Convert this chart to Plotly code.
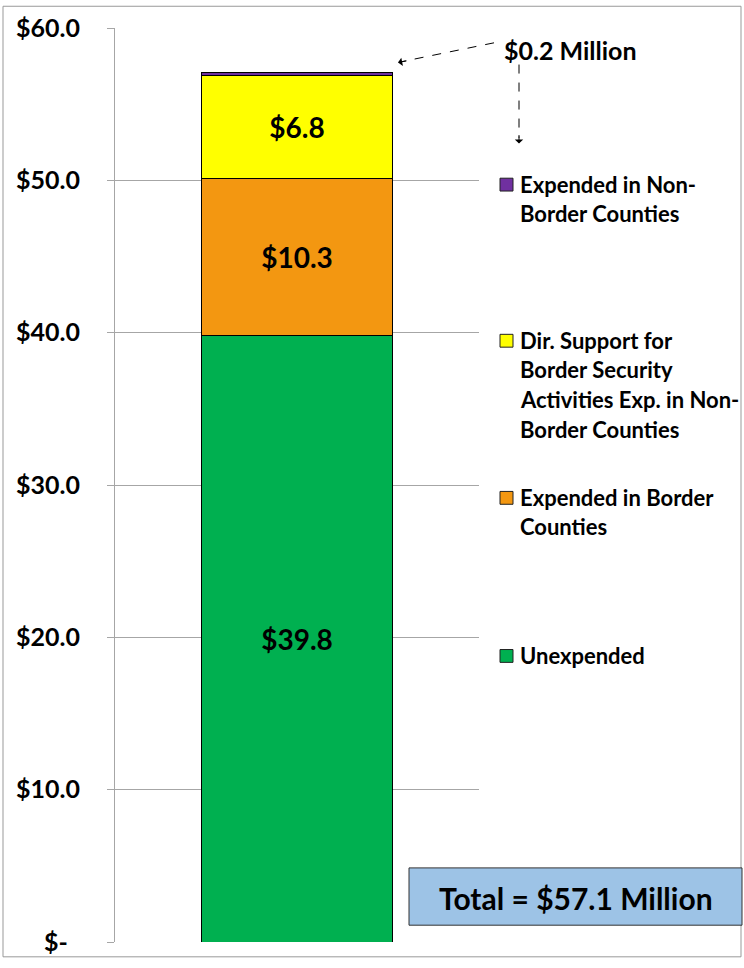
import plotly.graph_objects as go

W, H = 744, 968
ML, MR, MT, MB = 115, 265, 25, 18

categories = ["Total"]
series_names = [
    "Unexpended",
    "Expended in Border Counties",
    "Dir. Support for Border Security Activities Exp. in Non-Border Counties",
    "Expended in Non-Border Counties",
]
series_values = [[39.8], [10.3], [6.8], [0.2]]
series_colors = ["#00B050", "#F39711", "#FFFF00", "#7030A0"]
show_label = [True, True, True, False]

tick_vals = [0, 10, 20, 30, 40, 50, 60]
tick_text = ["$-\u00a0\u00a0", "$10.0", "$20.0", "$30.0", "$40.0", "$50.0", "$60.0"]

legend_lines = [
    ["Expended in Non-", "Border Counties"],
    ["Dir. Support for", "Border Security", "Activities Exp. in Non-", "Border Counties"],
    ["Expended in Border", "Counties"],
    ["Unexpended"],
]
legend_colors = ["#7030A0", "#FFFF00", "#F39711", "#00B050"]
legend_top_px = [183, 341, 500, 660]

FONT = "Lato, 'Open Sans', sans-serif"

PW = W - ML - MR
PH = H - MT - MB


def px(x):
    return (x - ML) / PW


def py(y):
    return 1 - (y - MT) / PH


fig = go.Figure()
for name, vals, col, lab in zip(series_names, series_values, series_colors, show_label):
    fig.add_trace(go.Bar(
        x=categories, y=vals, name=name,
        marker=dict(color=col, line=dict(color="black", width=1)),
        text=[f"${v:.1f}" for v in vals] if lab else None,
        textposition="inside" if lab else "none",
        insidetextanchor="middle",
        textfont=dict(family=FONT, size=28, color="black", weight="bold"),
        showlegend=False,
    ))

shapes = []
annotations = []

# legend
for lines, col, top in zip(legend_lines, legend_colors, legend_top_px):
    shapes.append(dict(type="rect", xref="paper", yref="paper",
                       x0=px(500), x1=px(513), y0=py(top - 6), y1=py(top + 7),
                       fillcolor=col, line=dict(color="#222", width=1)))
    for i, ln in enumerate(lines):
        annotations.append(dict(xref="paper", yref="paper", x=px(518), y=py(top + i * 30),
                                text=ln, showarrow=False, xanchor="left", yanchor="middle",
                                font=dict(family=FONT, size=22, color="black", weight="bold")))

# $0.2 Million label and dashed arrows
annotations.append(dict(xref="paper", yref="paper", x=px(502), y=py(47), text="$0.2 Million",
                        showarrow=False, xanchor="left", yanchor="middle",
                        font=dict(family=FONT, size=25, color="black", weight="bold")))
shapes.append(dict(type="line", xref="paper", yref="paper", x0=px(494), y0=py(40),
                   x1=px(402), y1=py(59), line=dict(color="black", width=1, dash="dash")))
annotations.append(dict(xref="paper", yref="paper", x=px(398), y=py(60), ax=10, ay=-2,
                        text="", showarrow=True,
                        arrowhead=1, arrowsize=1.4, arrowwidth=1, arrowcolor="black"))
shapes.append(dict(type="line", xref="paper", yref="paper", x0=px(519), y0=py(62),
                   x1=px(519), y1=py(136), line=dict(color="black", width=1, dash="dash")))
annotations.append(dict(xref="paper", yref="paper", x=px(519), y=py(142), ax=0, ay=-10,
                        text="", showarrow=True,
                        arrowhead=1, arrowsize=1.4, arrowwidth=1, arrowcolor="black"))

# Total box
shapes.append(dict(type="rect", xref="paper", yref="paper", x0=px(409), x1=px(742),
                   y0=py(933), y1=py(875), fillcolor="#9DC3E6", line=dict(color="#333", width=1)))
annotations.append(dict(xref="paper", yref="paper", x=px(576), y=py(905),
                        text="Total = $57.1 Million", showarrow=False,
                        xanchor="center", yanchor="middle",
                        font=dict(family=FONT, size=30, color="black", weight="bold")))

# outer border
shapes.append(dict(type="rect", xref="paper", yref="paper", x0=px(3), x1=px(741),
                   y0=py(965), y1=py(3), line=dict(color="#999", width=1), fillcolor="rgba(0,0,0,0)",
                   layer="below"))

fig.update_layout(
    width=W, height=H,
    margin=dict(l=ML, r=MR, t=MT, b=MB),
    barmode="stack", bargap=0.475,
    plot_bgcolor="white", paper_bgcolor="white",
    shapes=shapes, annotations=annotations,
    font=dict(family=FONT),
)
fig.update_xaxes(showticklabels=False, showgrid=False, zeroline=False, showline=False, ticks="")
fig.update_yaxes(range=[0, 60], tickvals=tick_vals, ticktext=tick_text,
                 showgrid=True, gridcolor="#A6A6A6", gridwidth=1, zeroline=False,
                 showline=True, linecolor="#A6A6A6", linewidth=1,
                 ticks="outside", ticklen=7, tickcolor="#A6A6A6",
                 ticklabelstandoff=22,
                 tickfont=dict(family=FONT, size=25, color="black", weight="bold"))

fig.write_html(
    "out.html",
    config={"displayModeBar": False},
    post_script=(
        "document.body.style.margin='0';"
        "document.body.style.overflow='hidden';"
        "document.documentElement.style.overflow='hidden';"
    ),
)
